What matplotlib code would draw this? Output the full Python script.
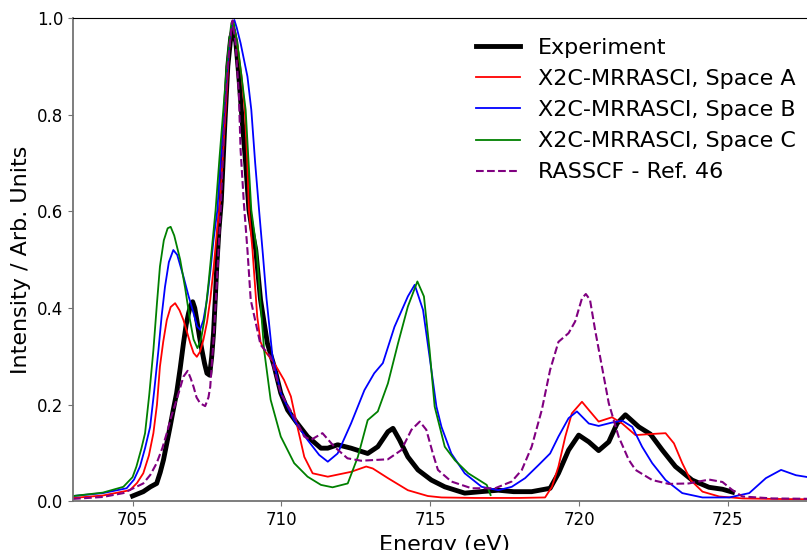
import matplotlib
matplotlib.use("Agg")
import matplotlib.pyplot as plt

# Experiment
exp_x = [705.0, 705.2, 705.36, 705.6, 705.81, 705.93, 706.04, 706.15, 706.26, 706.37,
         706.48, 706.6, 706.71, 706.8, 706.88, 706.95, 707.02, 707.09, 707.16, 707.25,
         707.33, 707.42, 707.5, 707.59, 707.66, 707.72, 707.78, 707.83, 707.9, 707.98,
         708.1, 708.2, 708.3, 708.38, 708.47, 708.57, 708.68, 708.8, 708.91, 709.02,
         709.14, 709.3, 709.53, 709.76, 709.98, 710.21, 710.54, 710.88,
         711.33, 711.56, 711.89, 712.34, 712.9, 713.24, 713.58, 713.75, 713.97, 714.25,
         714.59, 715.04, 715.49, 716.16, 716.7, 717.29, 717.8, 718.41, 719.03, 719.31,
         719.65, 719.99, 720.33, 720.66, 721.0, 721.28, 721.56, 722.01, 722.4, 722.8,
         723.24, 723.8, 724.37, 724.82, 725.16]
exp_y = [0.011, 0.016, 0.02, 0.03, 0.037, 0.06, 0.086, 0.12, 0.154, 0.19,
         0.224, 0.275, 0.327, 0.365, 0.389, 0.405, 0.413, 0.4, 0.375, 0.34,
         0.313, 0.285, 0.265, 0.261, 0.3, 0.348, 0.42, 0.486, 0.56, 0.62,
         0.78, 0.9, 0.96, 0.975, 0.95, 0.88, 0.79, 0.7, 0.603, 0.56,
         0.52, 0.417, 0.327, 0.279, 0.224, 0.189, 0.161, 0.134,
         0.11, 0.11, 0.117, 0.11, 0.099, 0.113, 0.144, 0.151, 0.127, 0.092,
         0.065, 0.044, 0.03, 0.017, 0.02, 0.023, 0.02, 0.02, 0.027, 0.058,
         0.106, 0.137, 0.123, 0.105, 0.123, 0.161, 0.179, 0.154, 0.139, 0.106,
         0.072, 0.044, 0.029, 0.025, 0.019]

# X2C-MRRASCI, Space A
a_x = [703.0, 704.0, 704.91, 705.15, 705.36, 705.55, 705.7, 705.82, 705.92, 706.03,
       706.15, 706.28, 706.43, 706.58, 706.71, 706.83, 706.94, 707.05, 707.16, 707.27,
       707.38, 707.5, 707.61, 707.72, 707.83, 707.94, 708.04, 708.13, 708.24, 708.35,
       708.45, 708.55, 708.66, 708.77, 708.85, 708.91, 709.03, 709.19, 709.3, 709.42,
       709.76, 710.09, 710.32, 710.54, 710.77, 711.05, 711.56,
       712.34, 712.85, 713.07, 713.58, 714.25, 714.92, 715.38, 716.5, 718.0, 718.86,
       719.09, 719.31, 719.54, 719.76, 720.1, 720.33, 720.66, 721.11, 721.45, 721.9,
       722.35, 722.91, 723.19, 723.47, 723.75, 724.15, 724.71, 725.5, 726.5, 728.0]
a_y = [0.007, 0.012, 0.023, 0.038, 0.058, 0.095, 0.141, 0.2, 0.279, 0.33,
       0.375, 0.402, 0.41, 0.395, 0.375, 0.35, 0.327, 0.307, 0.299, 0.31,
       0.334, 0.37, 0.417, 0.48, 0.555, 0.62, 0.72, 0.81, 0.93, 0.99,
       0.97, 0.93, 0.88, 0.81, 0.71, 0.603, 0.52, 0.382, 0.33, 0.313,
       0.286, 0.251, 0.217, 0.154, 0.092, 0.058, 0.051,
       0.061, 0.072, 0.068, 0.048, 0.023, 0.011, 0.008, 0.007, 0.007, 0.008,
       0.03, 0.072, 0.134, 0.182, 0.206, 0.189, 0.165, 0.174, 0.161, 0.137,
       0.139, 0.141, 0.12, 0.079, 0.044, 0.02, 0.01, 0.006, 0.005, 0.004]

# X2C-MRRASCI, Space B
b_x = [703.0, 704.0, 704.8, 705.05, 705.25, 705.42, 705.59, 705.73, 705.87, 705.98,
       706.09, 706.22, 706.37, 706.5, 706.71, 706.88, 707.05, 707.17, 707.27, 707.38,
       707.5, 707.62, 707.72, 707.85, 707.95, 708.08, 708.18, 708.26, 708.34, 708.42,
       708.5, 708.63, 708.86, 708.99, 709.12, 709.25, 709.38, 709.5, 709.7, 709.98,
       710.43, 710.88, 711.27, 711.56, 711.89, 712.34, 712.79,
       713.12, 713.41, 713.8, 714.25, 714.48, 714.76, 714.98, 715.21, 715.38, 715.71,
       716.16, 716.73, 717.29, 717.74, 718.19, 718.64, 719.03, 719.31, 719.65, 719.93,
       720.33, 720.66, 721.11, 721.45, 721.79, 722.12, 722.46, 722.91, 723.47, 724.15,
       725.05, 725.72, 726.28, 726.79, 727.29, 728.0]
b_y = [0.011, 0.017, 0.027, 0.045, 0.072, 0.11, 0.154, 0.23, 0.313, 0.385,
       0.444, 0.495, 0.52, 0.51, 0.465, 0.425, 0.389, 0.362, 0.355, 0.375,
       0.417, 0.48, 0.541, 0.603, 0.7, 0.81, 0.89, 0.948, 0.985, 0.996,
       0.98, 0.948, 0.879, 0.81, 0.7, 0.603, 0.51, 0.42, 0.3, 0.224,
       0.168, 0.127, 0.096, 0.082, 0.099, 0.161, 0.23,
       0.265, 0.286, 0.361, 0.424, 0.448, 0.396, 0.299, 0.196, 0.154, 0.099,
       0.058, 0.03, 0.023, 0.03, 0.048, 0.075, 0.099, 0.134, 0.172, 0.186,
       0.161, 0.156, 0.163, 0.167, 0.154, 0.113, 0.079, 0.044, 0.017, 0.008,
       0.008, 0.017, 0.048, 0.065, 0.054, 0.047]

# X2C-MRRASCI, Space C
c_x = [703.0, 704.0, 704.69, 705.0, 705.13, 705.3, 705.42, 705.56, 705.7, 705.82,
       705.92, 706.05, 706.18, 706.28, 706.4, 706.6, 706.77, 706.93, 707.05, 707.18,
       707.3, 707.43, 707.55, 707.66, 707.79, 707.92, 708.05, 708.15, 708.24, 708.32,
       708.4, 708.48, 708.56, 708.68, 708.8, 708.9, 708.99, 709.17, 709.3,
       709.42, 709.64, 709.98, 710.43, 710.88, 711.33, 711.72, 712.23, 712.57, 712.9,
       713.24, 713.58, 713.92, 714.25, 714.57, 714.79, 714.98, 715.15, 715.49, 715.83,
       716.28, 716.9, 717.03]
c_y = [0.011, 0.018, 0.03, 0.05, 0.072, 0.11, 0.141, 0.22, 0.313, 0.41,
       0.486, 0.54, 0.565, 0.568, 0.55, 0.5, 0.44, 0.375, 0.335, 0.317,
       0.335, 0.382, 0.45, 0.52, 0.603, 0.71, 0.81, 0.89, 0.948, 0.99,
       0.99, 0.96, 0.93, 0.87, 0.81, 0.7, 0.603, 0.52, 0.41,
       0.313, 0.21, 0.134, 0.079, 0.051, 0.034, 0.029, 0.037, 0.092, 0.168,
       0.186, 0.244, 0.327, 0.403, 0.455, 0.424, 0.313, 0.196, 0.113, 0.085,
       0.058, 0.034, 0.013]

# RASSCF - Ref. 46
r_x = [703.0, 704.0, 704.69, 705.36, 705.6, 705.81, 706.0, 706.15, 706.3, 706.48,
       706.6, 706.71, 706.85, 706.95, 707.05, 707.15, 707.27, 707.44, 707.55, 707.61,
       707.72, 707.83, 707.96, 708.08, 708.2, 708.3, 708.36, 708.46, 708.57, 708.63,
       708.74, 708.86, 708.97, 709.14, 709.3, 709.64, 709.98, 710.43, 710.77,
       710.99, 711.38, 711.78, 712.22, 712.68, 713.58, 714.03, 714.37, 714.65, 714.87,
       715.09, 715.26, 715.71, 716.39, 717.18, 717.74, 718.08, 718.41, 718.75, 719.03,
       719.31, 719.65, 719.87, 720.1, 720.23, 720.37, 720.54, 720.77, 721.0, 721.33,
       721.67, 721.9, 722.46, 723.02, 723.69, 724.37, 724.82, 725.16, 725.49, 726.5,
       728.0]
r_y = [0.005, 0.009, 0.017, 0.037, 0.055, 0.079, 0.11, 0.141, 0.175, 0.21,
       0.235, 0.258, 0.27, 0.255, 0.237, 0.215, 0.203, 0.197, 0.215, 0.237,
       0.334, 0.451, 0.603, 0.78, 0.9, 0.97, 0.995, 0.948, 0.845, 0.727,
       0.617, 0.52, 0.417, 0.369, 0.324, 0.299, 0.224, 0.175, 0.134,
       0.127, 0.141, 0.113, 0.089, 0.084, 0.087, 0.106, 0.148, 0.165, 0.148,
       0.099, 0.065, 0.041, 0.027, 0.027, 0.041, 0.065, 0.113, 0.189, 0.272,
       0.33, 0.348, 0.372, 0.42, 0.429, 0.417, 0.355, 0.279, 0.203, 0.134,
       0.086, 0.065, 0.044, 0.036, 0.037, 0.045, 0.04, 0.023, 0.01, 0.006,
       0.005]

x_ticks = [705, 710, 715, 720, 725]
y_ticks = [0.0, 0.2, 0.4, 0.6, 0.8, 1.0]

fig = plt.figure(figsize=(8.07, 5.5), dpi=100)
ax = fig.add_axes([0.0905, 0.0885, 0.922, 0.8787])

ax.plot(exp_x, exp_y, color='black', lw=3.5, label='Experiment')
ax.plot(a_x, a_y, color='red', lw=1.3, label='X2C-MRRASCI, Space A')
ax.plot(b_x, b_y, color='blue', lw=1.3, label='X2C-MRRASCI, Space B')
ax.plot(c_x, c_y, color='green', lw=1.3, label='X2C-MRRASCI, Space C')
ax.plot(r_x, r_y, color='purple', lw=1.5, ls='--', label='RASSCF - Ref. 46')

ax.set_xlim(703, 728)
ax.set_ylim(0, 1.0)
ax.set_xticks(x_ticks)
ax.set_yticks(y_ticks)
ax.set_yticklabels([f"{v:.1f}" for v in y_ticks])
ax.tick_params(labelsize=12, color='0.45')
ax.set_xlabel('Energy (eV)', fontsize=16)
ax.set_ylabel('Intensity / Arb. Units', fontsize=16)

for s in ['left', 'bottom']:
    ax.spines[s].set_color('0.45')
    ax.spines[s].set_linewidth(1.3)

ax.legend(loc='upper right', fontsize=16, frameon=False, bbox_to_anchor=(0.998, 1.0))

fig.savefig('out.png', dpi=100)
